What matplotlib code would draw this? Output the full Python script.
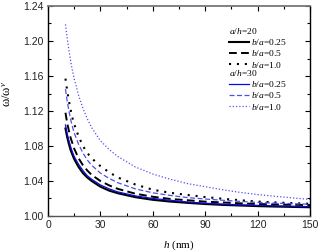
import matplotlib
matplotlib.use("Agg")
import matplotlib.pyplot as plt
from matplotlib.ticker import MultipleLocator, FormatStrFormatter

plt.rcParams['mathtext.fontset'] = 'custom'
plt.rcParams['mathtext.rm'] = 'Liberation Serif'
plt.rcParams['mathtext.it'] = 'Liberation Serif:italic'

h = [10, 11, 12, 13, 14, 15, 17.5, 20, 22.5, 25, 30, 35, 40, 50, 60, 70, 80, 90,
     100, 110, 120, 130, 140, 150]

# a/h = 20
k20_b025 = [1.100, 1.090, 1.082, 1.075, 1.070, 1.065, 1.056, 1.049, 1.044, 1.040,
            1.0335, 1.029, 1.026, 1.0215, 1.0185, 1.0165, 1.015, 1.0137, 1.0127,
            1.012, 1.0113, 1.0108, 1.0104, 1.010]
k20_b05 = [1.118, 1.106, 1.097, 1.089, 1.083, 1.077, 1.066, 1.058, 1.052, 1.047,
           1.040, 1.035, 1.031, 1.0255, 1.022, 1.0195, 1.018, 1.0164, 1.0155,
           1.0145, 1.0137, 1.0132, 1.0128, 1.0125]
k20_b10 = [1.157, 1.143, 1.131, 1.121, 1.112, 1.105, 1.091, 1.080, 1.072, 1.066,
           1.057, 1.050, 1.044, 1.036, 1.030, 1.0265, 1.024, 1.0217, 1.0197,
           1.018, 1.0165, 1.0155, 1.0147, 1.014]
# a/h = 30
k30_b025 = [1.104, 1.094, 1.086, 1.079, 1.073, 1.068, 1.059, 1.052, 1.046, 1.042,
            1.0355, 1.031, 1.0275, 1.023, 1.020, 1.018, 1.016, 1.0146, 1.0136,
            1.0128, 1.0121, 1.0116, 1.0111, 1.0107]
k30_b05 = [1.145, 1.131, 1.120, 1.110, 1.102, 1.095, 1.082, 1.072, 1.064, 1.058,
           1.049, 1.043, 1.038, 1.031, 1.0265, 1.0235, 1.021, 1.0194, 1.018,
           1.0167, 1.0155, 1.0147, 1.014, 1.0135]
k30_b10 = [1.219, 1.203, 1.189, 1.177, 1.166, 1.157, 1.138, 1.123, 1.111, 1.101,
           1.086, 1.076, 1.068, 1.056, 1.048, 1.042, 1.037, 1.0335, 1.030,
           1.027, 1.0245, 1.0225, 1.0207, 1.019]

labels = [r'$b/a$=0.25', r'$b/a$=0.5', r'$b/a$=1.0']
titles = [r'$a/h$=20', r'$a/h$=30']

fig = plt.figure(figsize=(3.19, 2.52), dpi=100)
ax = fig.add_axes([48/319, 1-216/252, 262/319, 210/252])

blue = '#0a0adc'
lblue = '#5050ec'
l1, = ax.plot(h, k20_b025, color='black', lw=1.5, ls='-')
l2, = ax.plot(h, k20_b05, color='black', lw=1.4, ls=(0, (4, 2.2)))
l3, = ax.plot(h, k20_b10, color='black', lw=1.5, ls=(0, (1, 2.8)))
l4, = ax.plot(h, k30_b025, color=blue, lw=0.9, ls='-')
l5, = ax.plot(h, k30_b05, color=lblue, lw=0.9, ls=(0, (4, 2)))
l6, = ax.plot(h, k30_b10, color=lblue, lw=0.9, ls=(0, (1, 1.6)))

ax.set_xlim(0, 150)
ax.set_ylim(1.00, 1.24)
ax.xaxis.set_major_locator(MultipleLocator(30))
ax.xaxis.set_minor_locator(MultipleLocator(15))
ax.yaxis.set_major_locator(MultipleLocator(0.04))
ax.yaxis.set_minor_locator(MultipleLocator(0.02))
ax.yaxis.set_major_formatter(FormatStrFormatter('%.2f'))
ax.tick_params(which='both', direction='in', top=True, right=True,
               labelsize=7.5, width=0.8, pad=3)
ax.tick_params(which='major', length=3.5)
ax.tick_params(which='minor', length=2)
for lab in ax.get_xticklabels() + ax.get_yticklabels():
    lab.set_family('Liberation Sans')
    lab.set_color('#222222')
for s in ['left', 'right']:
    ax.spines[s].set_linewidth(1.0)
ax.spines['top'].set_color('#777777')
ax.spines['top'].set_linewidth(1.3)
ax.spines['bottom'].set_color('#555555')
ax.spines['bottom'].set_linewidth(1.0)

ax.set_xlabel(r'$h$ (nm)', family='Liberation Serif', fontsize=8, labelpad=6)
ax.set_ylabel(r'ω/ω$^{v}$', family='Liberation Serif', fontsize=9)
ax.yaxis.set_label_coords(-0.13, 0.58)

prop = {'family': 'Liberation Serif', 'size': 6.8}
leg_kw = dict(frameon=False, handlelength=2.1, handletextpad=0.25,
              labelspacing=0.12, borderpad=0, borderaxespad=0, prop=prop,
              alignment='left', title_fontproperties=prop, loc='upper left')
leg1 = ax.legend([l1, l2, l3], labels, title=titles[0],
                 bbox_to_anchor=(0.69, 0.905), **leg_kw)
ax.add_artist(leg1)
leg2 = ax.legend([l4, l5, l6], labels, title=titles[1],
                 bbox_to_anchor=(0.69, 0.705), **leg_kw)
for leg in (leg1, leg2):
    leg._legend_box.sep = 1

fig.savefig('out.png', dpi=100)
